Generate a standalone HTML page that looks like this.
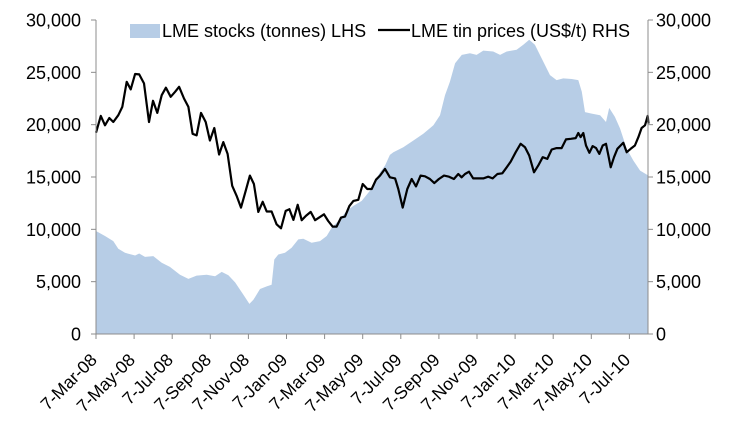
<!DOCTYPE html>
<html><head><meta charset="utf-8"><style>
body{margin:0;background:#fff;}
svg{display:block;font-family:"Liberation Sans",Arial,sans-serif;}
</style></head><body>
<svg id="chart" width="744" height="426" viewBox="0 0 744 426">
<g id="plot"></g>
</svg>
<script>
const tickLabels=["7-Mar-08","7-May-08","7-Jul-08","7-Sep-08","7-Nov-08","7-Jan-09","7-Mar-09","7-May-09","7-Jul-09","7-Sep-09","7-Nov-09","7-Jan-10","7-Mar-10","7-May-10","7-Jul-10"];
const yTicks=[0,5000,10000,15000,20000,25000,30000];
const stockMonths=[0,0.47,0.91,1.17,1.52,2.05,2.27,2.57,3.01,3.45,3.88,4.41,4.85,5.28,5.81,6.25,6.6,6.95,7.3,7.74,8.05,8.26,8.61,8.96,9.22,9.36,9.57,9.92,10.27,10.62,10.88,11.32,11.76,12.11,12.37,12.72,13.16,13.51,13.95,14.38,14.91,15.17,15.43,15.61,16.13,16.66,17.18,17.71,18.06,18.32,18.58,18.85,19.2,19.63,19.98,20.33,20.85,21.21,21.56,22.08,22.43,22.74,23.04,23.39,23.83,24.18,24.53,24.97,25.32,25.5,25.67,26.02,26.46,26.77,26.94,27.24,27.51,27.86,28.21,28.56,29.0];
const stockValues=[9840,9360,8880,8150,7760,7500,7690,7370,7440,6800,6410,5670,5260,5580,5670,5510,5930,5610,4930,3750,2880,3270,4300,4550,4710,7120,7600,7760,8240,9040,9100,8720,8880,9360,10140,10800,11760,12240,12720,13680,15450,16090,17110,17370,17850,18490,19130,19940,20900,22820,24100,25870,26670,26830,26670,27080,26990,26670,26990,27150,27630,28110,27630,26350,24740,24260,24420,24360,24260,23140,21200,21060,20900,20250,21600,20740,19620,17690,16570,15610,15130];
const priceMonths=[0,0.25,0.47,0.7,0.91,1.17,1.38,1.61,1.82,2.05,2.27,2.52,2.78,2.99,3.22,3.45,3.67,3.92,4.15,4.36,4.62,4.85,5.07,5.28,5.51,5.76,5.98,6.21,6.46,6.68,6.91,7.15,7.38,7.61,7.86,8.08,8.29,8.52,8.75,8.96,9.22,9.48,9.71,9.96,10.15,10.36,10.59,10.8,11.02,11.27,11.5,11.71,11.97,12.19,12.42,12.63,12.86,13.07,13.3,13.51,13.77,14.0,14.24,14.47,14.7,14.91,15.17,15.43,15.7,15.87,16.1,16.34,16.57,16.8,17.04,17.27,17.53,17.76,18.0,18.27,18.53,18.79,19.02,19.19,19.37,19.58,19.8,20.07,20.33,20.59,20.82,21.07,21.33,21.56,21.77,22.03,22.29,22.52,22.74,22.99,23.21,23.45,23.69,23.92,24.18,24.44,24.67,24.93,25.18,25.32,25.44,25.58,25.72,25.9,26.07,26.25,26.42,26.6,26.77,26.9,27.02,27.19,27.37,27.54,27.68,27.86,28.07,28.29,28.47,28.64,28.82,28.96,29.0];
const priceValues=[19230,20840,19940,20640,20250,20900,21700,24100,23370,24840,24800,23940,20250,22280,21120,22820,23530,22660,23140,23620,22500,21700,19130,18970,21120,20250,18490,19680,17150,18330,17210,14160,13200,12080,13680,15130,14330,11670,12630,11700,11700,10480,10100,11760,11920,10900,12340,10870,11280,11670,10870,11120,11440,10800,10260,10260,11120,11220,12240,12720,12820,14330,13850,13850,14740,15130,15770,14970,14870,13850,12080,13850,14810,14100,15130,15070,14810,14420,14810,15130,15030,14810,15290,14970,15290,15510,14870,14870,14870,15030,14870,15290,15350,15930,16470,17370,18170,17850,17050,15450,16090,16890,16730,17630,17760,17760,18590,18650,18720,19200,18810,19200,18010,17310,17950,17760,17210,18010,18170,17050,15930,16890,17690,18010,18270,17370,17690,18010,18810,19680,19940,20840,20100];

const NS="http://www.w3.org/2000/svg";
const g=document.getElementById('plot');
const X0=96,X1=648,Y0=334,YT=20,PXM=19.05;
const xs=m=>X0+m*PXM;
const ys=v=>Y0-(v/30000)*(Y0-YT);
function mk(t,a,p){const e=document.createElementNS(NS,t);for(const k in a)e.setAttribute(k,a[k]);(p||g).appendChild(e);return e;}

let d=`M${xs(stockMonths[0])},${Y0}`;
stockMonths.forEach((m,i)=>{d+=` L${xs(m).toFixed(1)},${ys(stockValues[i]).toFixed(1)}`;});
d+=` L${xs(stockMonths[stockMonths.length-1])},${Y0} Z`;
const area=mk('path',{d:d,fill:'#b7cde6'});



let pd='';
priceMonths.forEach((m,i)=>{pd+=(i?' L':'M')+xs(m).toFixed(1)+','+ys(priceValues[i]).toFixed(1);});
const line=mk('path',{d:pd,fill:'none',stroke:'#000','stroke-width':2.2,'stroke-linejoin':'round'});



const ax=mk('path',{d:`M${X0},${YT} L${X0},${Y0} L${X1},${Y0} M${X1},${YT} L${X1},${Y0}`,stroke:'#8c8c8c','stroke-width':1,fill:'none'});



yTicks.forEach(v=>{
  const y=ys(v);
  mk('line',{x1:X0-5,x2:X0,y1:y,y2:y,stroke:'#8c8c8c'});
  mk('line',{x1:X1,x2:X1+5,y1:y,y2:y,stroke:'#8c8c8c'});
  const l=mk('text',{x:X0-15,y:y+6.5,'text-anchor':'end','font-size':18,fill:'#000'});
  l.textContent=v.toLocaleString('en-US');
  
  
  const r=mk('text',{x:X1+8,y:y+6.5,'text-anchor':'start','font-size':18,fill:'#000'});
  r.textContent=v.toLocaleString('en-US');
  
  
});

tickLabels.forEach((t,i)=>{
  const x=xs(i*2);
  mk('line',{x1:x,x2:x,y1:Y0,y2:Y0+5,stroke:'#8c8c8c'});
  const l=mk('text',{x:x+2,y:Y0+27,'text-anchor':'end','font-size':17.5,fill:'#000',transform:`rotate(-45 ${x+2} ${Y0+27})`});
  l.textContent=t;
  
  
});

const lg=mk('g',{});


mk('rect',{x:130,y:24,width:30,height:14,fill:'#b7cde6'},lg);
const t1=mk('text',{x:162,y:37,'font-size':18,fill:'#000'},lg);
t1.textContent='LME stocks (tonnes) LHS';


mk('line',{x1:378,x2:410,y1:30,y2:30,stroke:'#000','stroke-width':2.2},lg);
const t2=mk('text',{x:411,y:37,'font-size':18,fill:'#000'},lg);
t2.textContent='LME tin prices (US$/t) RHS';


</script>
</body></html>
